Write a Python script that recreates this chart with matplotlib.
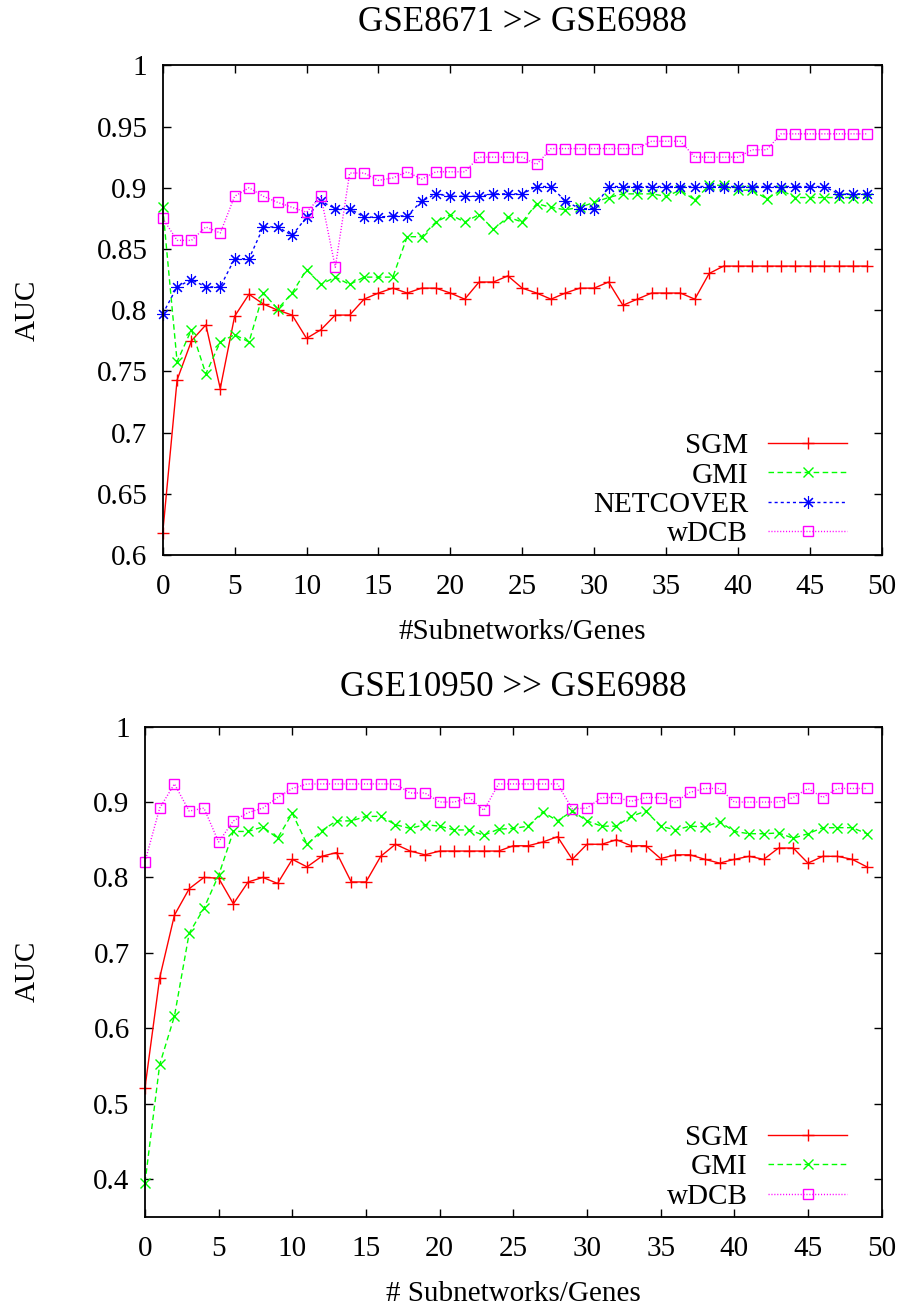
import matplotlib
matplotlib.use("Agg")
import matplotlib.pyplot as plt

plt.rcParams['font.family'] = ['Liberation Serif', 'DejaVu Serif']
plt.rcParams['font.size'] = 21

x = list(range(50))

# GSE8671 >> GSE6988
sgm_8671 = [0.618, 0.743, 0.775, 0.788, 0.736, 0.795, 0.813, 0.805, 0.800, 0.796,
            0.777, 0.784, 0.796, 0.796, 0.809, 0.814, 0.818, 0.814, 0.818, 0.818,
            0.814, 0.809, 0.823, 0.823, 0.828, 0.818, 0.814, 0.809, 0.814, 0.818,
            0.818, 0.823, 0.804, 0.809, 0.814, 0.814, 0.814, 0.809, 0.830, 0.836,
            0.836, 0.836, 0.836, 0.836, 0.836, 0.836, 0.836, 0.836, 0.836, 0.836]
gmi_8671 = [0.884, 0.758, 0.784, 0.748, 0.774, 0.780, 0.774, 0.814, 0.801, 0.814,
            0.833, 0.821, 0.827, 0.821, 0.827, 0.827, 0.827, 0.860, 0.860, 0.872,
            0.878, 0.872, 0.878, 0.866, 0.876, 0.872, 0.887, 0.884, 0.882, 0.884,
            0.888, 0.892, 0.895, 0.895, 0.895, 0.893, 0.898, 0.890, 0.902, 0.902,
            0.898, 0.898, 0.891, 0.898, 0.892, 0.892, 0.892, 0.892, 0.892, 0.892]
netcover_8671 = [0.797, 0.819, 0.825, 0.819, 0.819, 0.842, 0.842, 0.868, 0.868, 0.861,
                 0.876, 0.889, 0.883, 0.883, 0.876, 0.876, 0.877, 0.877, 0.889, 0.895,
                 0.893, 0.893, 0.893, 0.895, 0.895, 0.895, 0.901, 0.901, 0.889, 0.883,
                 0.883, 0.901, 0.901, 0.901, 0.901, 0.901, 0.901, 0.901, 0.901, 0.901,
                 0.901, 0.901, 0.901, 0.901, 0.901, 0.901, 0.901, 0.895, 0.895, 0.895]
wdcb_8671 = [0.875, 0.857, 0.857, 0.868, 0.863, 0.893, 0.900, 0.893, 0.888, 0.884,
             0.880, 0.893, 0.835, 0.912, 0.912, 0.906, 0.908, 0.913, 0.907, 0.913,
             0.913, 0.913, 0.925, 0.925, 0.925, 0.925, 0.919, 0.932, 0.932, 0.932,
             0.932, 0.932, 0.932, 0.932, 0.938, 0.938, 0.938, 0.925, 0.925, 0.925,
             0.925, 0.931, 0.931, 0.944, 0.944, 0.944, 0.944, 0.944, 0.944, 0.944]

# GSE10950 >> GSE6988
sgm_10950 = [0.521, 0.667, 0.750, 0.785, 0.800, 0.799, 0.765, 0.794, 0.800, 0.792,
             0.824, 0.814, 0.828, 0.833, 0.794, 0.794, 0.828, 0.844, 0.835, 0.830,
             0.835, 0.835, 0.835, 0.835, 0.835, 0.842, 0.842, 0.847, 0.854, 0.824,
             0.844, 0.844, 0.850, 0.842, 0.842, 0.825, 0.830, 0.830, 0.824, 0.819,
             0.824, 0.828, 0.824, 0.839, 0.839, 0.819, 0.828, 0.828, 0.824, 0.814]
gmi_10950 = [0.395, 0.552, 0.616, 0.726, 0.759, 0.803, 0.861, 0.861, 0.867, 0.852,
             0.885, 0.844, 0.862, 0.875, 0.875, 0.881, 0.881, 0.870, 0.865, 0.870,
             0.868, 0.863, 0.863, 0.856, 0.864, 0.865, 0.868, 0.887, 0.875, 0.888,
             0.875, 0.868, 0.868, 0.881, 0.888, 0.868, 0.863, 0.868, 0.867, 0.874,
             0.861, 0.858, 0.858, 0.859, 0.852, 0.858, 0.866, 0.866, 0.866, 0.858]
wdcb_10950 = [0.821, 0.892, 0.924, 0.888, 0.892, 0.847, 0.875, 0.886, 0.892, 0.906,
              0.918, 0.924, 0.924, 0.924, 0.924, 0.924, 0.924, 0.924, 0.912, 0.912,
              0.900, 0.900, 0.906, 0.889, 0.924, 0.924, 0.924, 0.924, 0.924, 0.891,
              0.892, 0.906, 0.906, 0.901, 0.906, 0.906, 0.900, 0.913, 0.918, 0.918,
              0.900, 0.900, 0.900, 0.900, 0.906, 0.918, 0.906, 0.918, 0.918, 0.918]

x_ticks = [0, 5, 10, 15, 20, 25, 30, 35, 40, 45, 50]
y_ticks_8671 = [0.6, 0.65, 0.7, 0.75, 0.8, 0.85, 0.9, 0.95, 1.0]
y_labels_8671 = ["0.6", "0.65", "0.7", "0.75", "0.8", "0.85", "0.9", "0.95", "1"]
y_ticks_10950 = [0.4, 0.5, 0.6, 0.7, 0.8, 0.9, 1.0]
y_labels_10950 = ["0.4", "0.5", "0.6", "0.7", "0.8", "0.9", "1"]

# gnuplot-like line types
styles = {
    'SGM': dict(color='#ff0000', marker='+', ls='-', ms=9, mew=1.0),
    'GMI': dict(color='#00ff00', marker='x', ls=(0, (4, 2.5)), ms=7.5, mew=1.0),
    'NETCOVER': dict(color='#0000ff', marker=(8, 2, 0), ls=(0, (2.2, 2.2)), ms=9, mew=0.8),
    'wDCB': dict(color='#ff00ff', marker='s', ls=(0, (0.8, 1.3)), ms=6.5, mew=1.0, mfc='none'),
}


def plot_panel(ax, series, title, title_pad, xlabel, ylim, yticks, ylabels, ylabel_x, legend_anchor):
    """ Draw one AUC panel with all methods and a gnuplot style key.
    """
    for name, values in series:
        st = styles[name]
        ax.plot(x, values, label=name, color=st['color'], marker=st['marker'],
                linestyle=st['ls'], markersize=st['ms'], lw=1.0, mew=st['mew'],
                mfc=st.get('mfc', st['color']), clip_on=False)

    ax.set_xlim(0, 50)
    ax.set_ylim(*ylim)
    ax.set_xticks(x_ticks)
    ax.set_yticks(yticks, ylabels)
    ax.tick_params(direction='in', length=6, width=1.0, top=True, right=True)
    ax.tick_params(axis='x', pad=14)
    ax.tick_params(axis='y', pad=11)
    for s in ax.spines.values():
        s.set_linewidth(1.3)

    ax.set_title(title, pad=title_pad)
    ax.set_xlabel(xlabel)
    ax.xaxis.set_label_coords(0.5, -0.131)
    ax.set_ylabel("AUC")
    ax.yaxis.set_label_coords(ylabel_x, 0.5)

    ax.legend(loc='lower right', bbox_to_anchor=legend_anchor, frameon=False,
              markerfirst=False, numpoints=1, handlelength=2.7, handletextpad=0.7,
              labelspacing=0.1, borderpad=0, borderaxespad=0)


fig = plt.figure(figsize=(9.05, 13.06), dpi=100)

ax1 = fig.add_axes([0.1798, 0.5750, 0.7945, 0.375])
plot_panel(ax1,
           [('SGM', sgm_8671), ('GMI', gmi_8671), ('NETCOVER', netcover_8671), ('wDCB', wdcb_8671)],
           "GSE8671 >> GSE6988", 25, "#Subnetworks/Genes",
           (0.6, 1.0), y_ticks_8671, y_labels_8671, -0.1695, (0.952, 0.016))

ax2 = fig.add_axes([0.1602, 0.0684, 0.814, 0.3752])
plot_panel(ax2,
           [('SGM', sgm_10950), ('GMI', gmi_10950), ('wDCB', wdcb_10950)],
           "GSE10950 >> GSE6988", 22, "# Subnetworks/Genes",
           (0.35, 1.0), y_ticks_10950, y_labels_10950, -0.141, (0.953, 0.014))

plt.savefig('out.png', dpi=100)
